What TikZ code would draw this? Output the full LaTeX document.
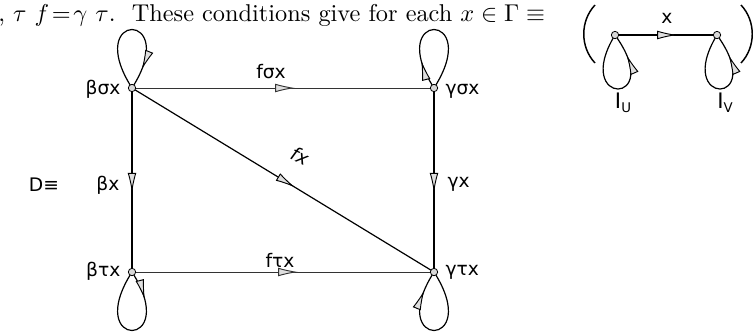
\documentclass[tikz,border=0pt]{standalone}
\usepackage{graphicx}
\usepackage{fontspec}
\usetikzlibrary{arrows.meta,decorations.markings,calc}
\newfontfamily\labfont{DejaVu Sans}
\begin{document}
\begin{tikzpicture}[x=0.75pt,y=-0.75pt,
  vtx/.style={circle,draw,fill=gray!30,inner sep=0pt,minimum size=5.5pt,line width=0.6pt},
  lab/.style={font=\labfont\fontsize{14}{16}\selectfont,inner sep=1pt},
  edgeline/.style={line width=0.9pt},
  hline/.style={line width=0.6pt,black!80},
  midarr/.style={postaction={decorate},decoration={markings,mark=at position #1 with {\arrow{Latex[length=15pt,width=6.5pt,fill=gray!25,line width=0.7pt]}}}},
]
\useasboundingbox (0,0) rectangle (756,333);
% header text
\node[anchor=base west,inner sep=0pt] (head) at (-2,21) {\resizebox{410pt}{!}{,\ $\tau\ f\!=\!\gamma\ \tau$.\ \ These conditions give for each $x\in\Gamma\equiv$}};
% main square coordinates
\coordinate (bs) at (132,88);
\coordinate (gs) at (434,88);
\coordinate (bt) at (132,272);
\coordinate (gt) at (434,272);
% edges
\draw[hline,midarr=0.54] (bs) -- (gs);
\draw[hline,midarr=0.55] (bt) -- (gt);
\draw[edgeline,midarr=0.57] (bs) -- (bt);
\draw[edgeline,midarr=0.57] (gs) -- (gt);
\draw[edgeline,midarr=0.54] (bs) -- (gt);
% loops
\draw[edgeline,midarr=0.85] (bs) .. controls ($(bs)+(-50,-78)$) and ($(bs)+(50,-78)$) .. (bs);
\draw[edgeline,midarr=0.22] (gs) .. controls ($(gs)+(-50,-78)$) and ($(gs)+(50,-78)$) .. (gs);
\draw[edgeline,midarr=0.22] (bt) .. controls ($(bt)+(50,78)$) and ($(bt)+(-50,78)$) .. (bt);
\draw[edgeline,midarr=0.85] (gt) .. controls ($(gt)+(50,78)$) and ($(gt)+(-50,78)$) .. (gt);
% vertices
\node[vtx] (bsv) at (bs) {};
\node[vtx] (gsv) at (gs) {};
\node[vtx] (btv) at (bt) {};
\node[vtx] (gtv) at (gt) {};
% labels
\node[lab,anchor=east] (bsl) at (122,89) {βσx};
\node[lab,anchor=west] (gsl) at (444,91) {γσx};
\node[lab,anchor=east] (bxl) at (121,185) {βx};
\node[lab,anchor=west] (gxl) at (446,184) {γx};
\node[lab,anchor=east] (btl) at (122,271) {βτx};
\node[lab,anchor=west] (gtl) at (444,272) {γτx};
\node[lab] (fsl) at (271,72) {fσx};
\node[lab] (ftl) at (280,260) {fτx};
\node[lab,rotate=-25] (fxl) at (300,156) {\itshape fx};
\node[lab] (dl) at (44,185) {D≡};
% small diagram
\coordinate (u) at (615,35);
\coordinate (v) at (717,35);
\draw[edgeline,midarr=0.61] (u) -- (v);
\draw[edgeline,midarr=0.82] (u) .. controls ($(u)+(-44,72)$) and ($(u)+(52,72)$) .. (u);
\draw[edgeline,midarr=0.82] (v) .. controls ($(v)+(-44,72)$) and ($(v)+(52,72)$) .. (v);
\node[vtx] (uv) at (u) {};
\node[vtx] (vv) at (v) {};
\node[lab] (xl) at (667,18) {x};
\node[lab,font=\labfont\fontsize{16}{18}\selectfont] (iu) at (623,103) {I\raisebox{-3pt}{\fontsize{10}{10}\selectfont U}};
\node[lab,font=\labfont\fontsize{16}{18}\selectfont] (iv) at (725,103) {I\raisebox{-3pt}{\fontsize{10}{10}\selectfont V}};
\coordinate (lp1) at (595,5);
\coordinate (lp2) at (595,63);
\coordinate (rp1) at (741,5);
\coordinate (rp2) at (741,63);
\draw[line width=1.1pt] (lp1) .. controls ($(lp1)+(-15,16)$) and ($(lp2)+(-15,-16)$) .. (lp2);
\draw[line width=1.1pt] (rp1) .. controls ($(rp1)+(15,16)$) and ($(rp2)+(15,-16)$) .. (rp2);
\end{tikzpicture}
\end{document}
